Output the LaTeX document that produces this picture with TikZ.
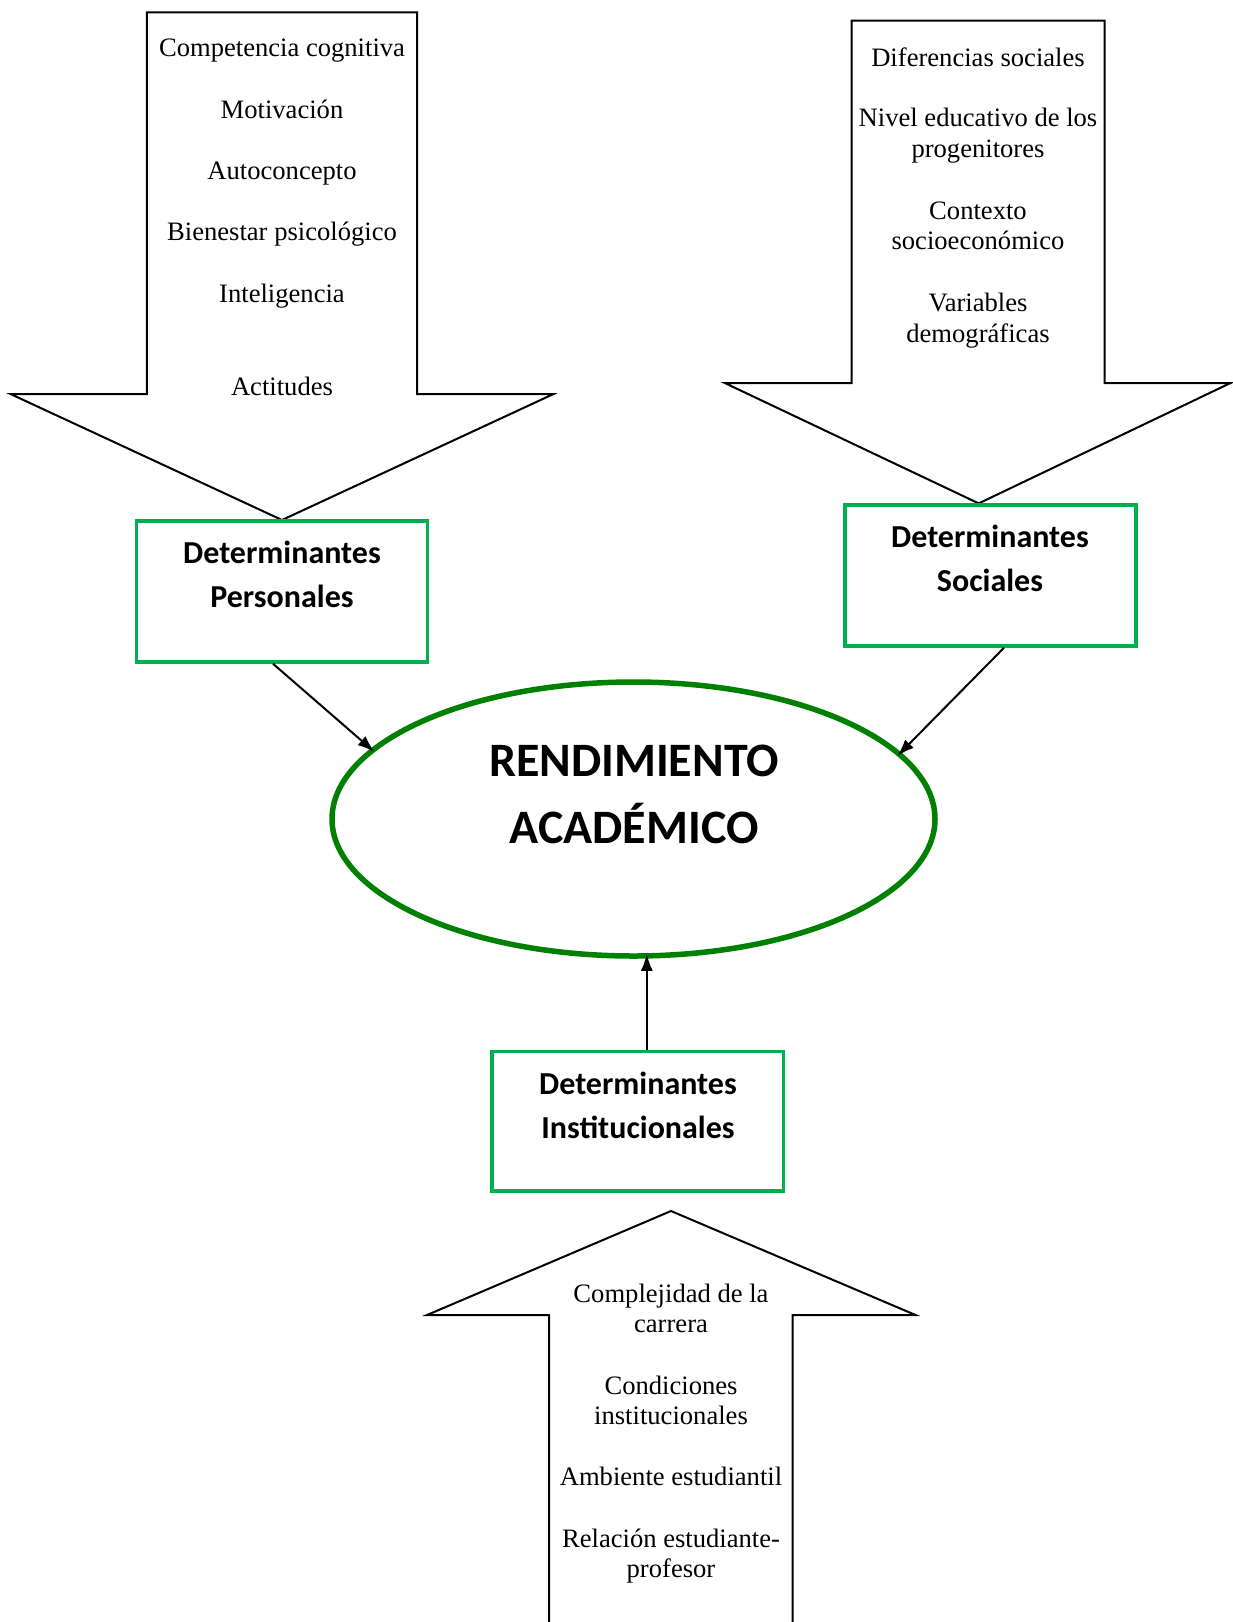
\documentclass[tikz,border=0pt]{standalone}
\usepackage{fontspec}
\setmainfont{Liberation Serif}
\newfontfamily\calfont{Carlito}
\usetikzlibrary{shapes.geometric,arrows.meta}
\definecolor{boxgreen}{HTML}{00B050}
\definecolor{ellgreen}{HTML}{008000}
\begin{document}
\begin{tikzpicture}[x=1pt,y=-1pt,
  bigarrow/.style={draw=black,line width=2pt,line join=miter},
  item/.style={anchor=base,inner sep=0pt,font=\fontsize{26.6}{31}\selectfont},
  lab/.style={anchor=base,inner sep=0pt,font=\calfont\bfseries\fontsize{32}{43}\selectfont},
  detbox/.style={draw=boxgreen,line width=3.5pt,rectangle,inner sep=0pt},
  conn/.style={draw=black,line width=2pt,shorten >=-5pt,-{Latex[length=17pt,width=12pt]}}]
\useasboundingbox (0,0) rectangle (1233,1622);

% --- top-left arrow (personal) ---
\draw[bigarrow] (146.9,12.4) -- (417,12.4) -- (417,394) -- (553.5,394) -- (282,520)
  -- (10.5,394) -- (146.9,394) -- cycle;
\node[item] (p1) at (282,56) {Competencia cognitiva};
\node[item] (p2) at (282,118) {Motivación};
\node[item] (p3) at (282,179) {Autoconcepto};
\node[item] (p4) at (282,240) {Bienestar psicológico};
\node[item] (p5) at (282,302) {Inteligencia};
\node[item] (p6) at (282,395) {Actitudes};

% --- top-right arrow (social) ---
\draw[bigarrow] (851.6,20.7) -- (1104.5,20.7) -- (1104.5,383) -- (1230.5,383) -- (978.7,503.4)
  -- (724.8,383) -- (851.6,383) -- cycle;
\node[item] (s1) at (978,66) {Diferencias sociales};
\node[item] (s2) at (978,126.7) {Nivel educativo de los};
\node[item] (s2b) at (978,157.7) {progenitores};
\node[item] (s3) at (978,219) {Contexto};
\node[item] (s3b) at (978,249.7) {socioeconómico};
\node[item] (s4) at (978,311.6) {Variables};
\node[item] (s4b) at (978,342) {demográficas};

% --- bottom arrow (institutional) ---
\draw[bigarrow] (549,1623) -- (549,1315) -- (427,1315) -- (671,1211) -- (915.5,1315)
  -- (792.6,1315) -- (792.6,1623);
\node[item] (i1) at (671,1302.5) {Complejidad de la};
\node[item] (i1b) at (671,1332) {carrera};
\node[item] (i2) at (671,1394) {Condiciones};
\node[item] (i2b) at (671,1424.5) {institucionales};
\node[item] (i3) at (671,1485.6) {Ambiente estudiantil};
\node[item] (i4) at (671,1547) {Relación estudiante-};
\node[item] (i4b) at (671,1577) {profesor};

% --- determinant boxes ---
\node[detbox,minimum width=291pt,minimum height=141pt] (P) at (282,591.5) {};
\node[lab] (Pt1) at (282,563) {Determinantes};
\node[lab] (Pt2) at (282,607) {Personales};

\node[detbox,minimum width=291pt,minimum height=141pt] (S) at (990.5,575.5) {};
\node[lab] (St1) at (990,547) {Determinantes};
\node[lab] (St2) at (990,591) {Sociales};

\node[detbox,minimum width=291.6pt,minimum height=139.5pt] (I) at (637.8,1121.2) {};
\node[lab] (It1) at (638,1094) {Determinantes};
\node[lab] (It2) at (638,1138) {Institucionales};

% --- central ellipse ---
\node[ellipse,draw=ellgreen,line width=5.5pt,minimum width=603pt,minimum height=274pt,inner sep=0pt] (E) at (633.5,819) {};
\node[anchor=base,inner sep=0pt,font=\calfont\bfseries\fontsize{48}{66}\selectfont] (E1) at (634,776) {RENDIMIENTO};
\node[anchor=base,inner sep=0pt,font=\calfont\bfseries\fontsize{48}{66}\selectfont] (E2) at (634,843) {ACADÉMICO};

% --- connectors ---
\draw[conn] ([xshift=-9pt]P.south) -- (E.165);
\draw[conn] ([xshift=13.5pt]S.south) -- (E.14);
\coordinate (Ib) at ([xshift=9pt]I.north);
\draw[conn] (Ib) -- (Ib |- E.south);
\end{tikzpicture}
\end{document}
